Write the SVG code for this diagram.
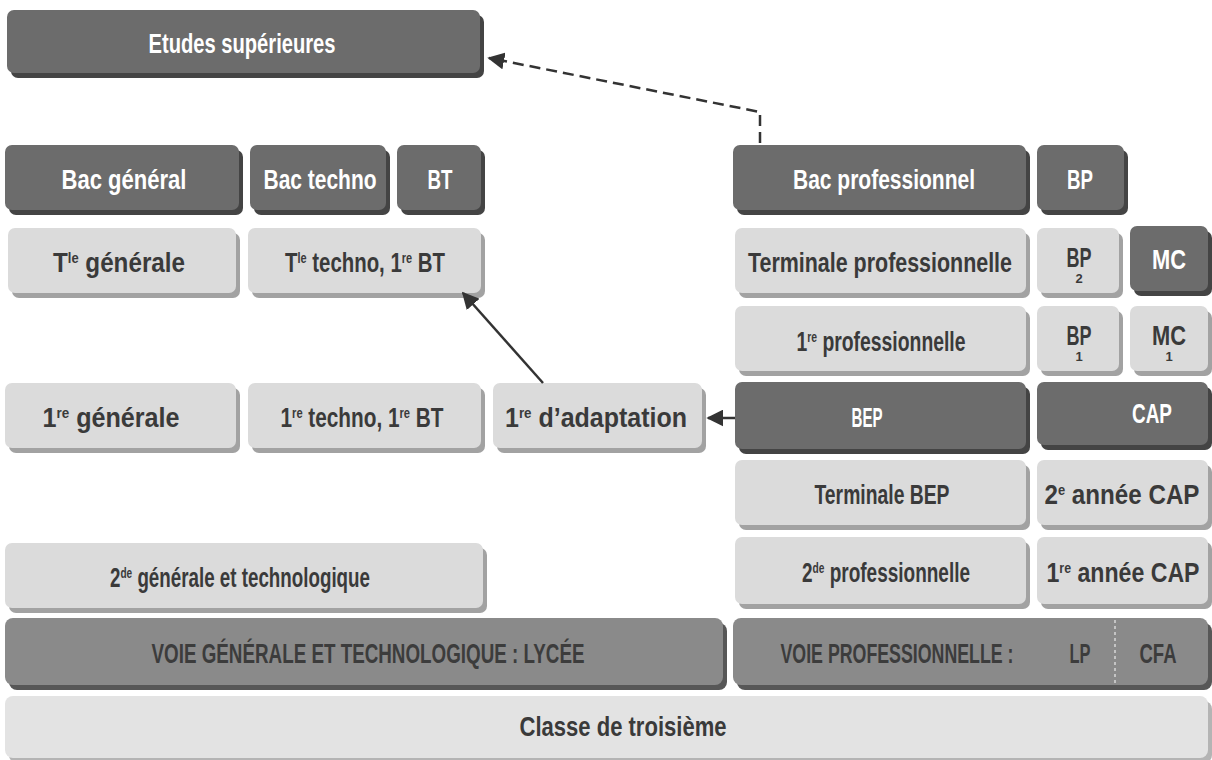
<svg xmlns="http://www.w3.org/2000/svg" width="1212" height="760" viewBox="0 0 1212 760">
<defs>
<style>
.fd{fill:#6c6c6c}.sd{fill:#444}
.fl{fill:#dbdbdb}.sl{fill:#a2a2a2}
.fm{fill:#8a8a8a}.sm{fill:#575757}
.fc{fill:#e3e3e3}.sc{fill:#b4b4b4}
text{font-family:"Liberation Sans",Arial,sans-serif;font-weight:bold;font-size:28px;text-anchor:middle}
.tw{fill:#ffffff}.tk{fill:#3a3a3a}.tm{fill:#3c3c3c;font-size:27px}
.sub{font-size:13px}
.sup{font-size:15px}
.conn{fill:none;stroke:#333;stroke-width:2.5}
</style>
<marker id="ah" viewBox="0 0 10 10" refX="9" refY="5" markerWidth="17" markerHeight="17" markerUnits="userSpaceOnUse" orient="auto">
<path d="M0,0 L10,5 L0,10 z" fill="#333"/>
</marker>
</defs>
<rect width="1212" height="760" fill="#fff"/>

<g id="etudes"><rect class="sd" x="11" y="15" width="473" height="63" rx="7"/><rect class="fd" x="7" y="10" width="473" height="63" rx="7"/><text class="tw" x="242" y="53" textLength="187" lengthAdjust="spacingAndGlyphs">Etudes supérieures</text></g>

<g id="bac-general"><rect class="sd" x="9" y="150" width="234" height="65" rx="7"/><rect class="fd" x="5" y="145" width="234" height="65" rx="7"/><text class="tw" x="124" y="189" textLength="125" lengthAdjust="spacingAndGlyphs">Bac général</text></g>
<g id="bac-techno"><rect class="sd" x="254" y="150" width="136" height="65" rx="7"/><rect class="fd" x="250" y="145" width="136" height="65" rx="7"/><text class="tw" x="320" y="189" textLength="113" lengthAdjust="spacingAndGlyphs">Bac techno</text></g>
<g id="bt"><rect class="sd" x="401" y="150" width="84" height="65" rx="7"/><rect class="fd" x="397" y="145" width="84" height="65" rx="7"/><text class="tw" x="440" y="189" textLength="25" lengthAdjust="spacingAndGlyphs">BT</text></g>
<g id="bac-pro"><rect class="sd" x="737" y="150" width="293" height="65" rx="7"/><rect class="fd" x="733" y="145" width="293" height="65" rx="7"/><text class="tw" x="884" y="189" textLength="182" lengthAdjust="spacingAndGlyphs">Bac professionnel</text></g>
<g id="bp"><rect class="sd" x="1041" y="150" width="87" height="65" rx="7"/><rect class="fd" x="1037" y="145" width="87" height="65" rx="7"/><text class="tw" x="1080" y="189" textLength="26" lengthAdjust="spacingAndGlyphs">BP</text></g>

<g id="tle-generale"><rect class="sl" x="12" y="233" width="228" height="65" rx="7"/><rect class="fl" x="8" y="228" width="228" height="65" rx="7"/><text class="tk" x="119" y="272" textLength="132" lengthAdjust="spacingAndGlyphs">T<tspan class="sup" baseline-shift="9">le</tspan> générale</text></g>
<g id="tle-techno"><rect class="sl" x="252" y="233" width="233" height="65" rx="7"/><rect class="fl" x="248" y="228" width="233" height="65" rx="7"/><text class="tk" x="365" y="272" textLength="160" lengthAdjust="spacingAndGlyphs">T<tspan class="sup" baseline-shift="9">le</tspan> techno, 1<tspan class="sup" baseline-shift="9">re</tspan> BT</text></g>
<g id="term-pro"><rect class="sl" x="739" y="233" width="291" height="65" rx="7"/><rect class="fl" x="735" y="228" width="291" height="65" rx="7"/><text class="tk" x="880" y="272" textLength="264" lengthAdjust="spacingAndGlyphs">Terminale professionnelle</text></g>
<g id="bp2"><rect class="sl" x="1041" y="233" width="82" height="65" rx="7"/><rect class="fl" x="1037" y="228" width="82" height="65" rx="7"/><text class="tk" x="1079" y="267" textLength="25" lengthAdjust="spacingAndGlyphs">BP</text><text class="tk sub" x="1079" y="283">2</text></g>
<g id="mc"><rect class="sd" x="1134" y="231" width="78" height="65" rx="7"/><rect class="fd" x="1130" y="226" width="78" height="65" rx="7"/><text class="tw" x="1169" y="269" textLength="34" lengthAdjust="spacingAndGlyphs">MC</text></g>

<g id="1re-pro"><rect class="sl" x="739" y="311" width="291" height="65" rx="7"/><rect class="fl" x="735" y="306" width="291" height="65" rx="7"/><text class="tk" x="881" y="351" textLength="169" lengthAdjust="spacingAndGlyphs">1<tspan class="sup" baseline-shift="9">re</tspan> professionnelle</text></g>
<g id="bp1"><rect class="sl" x="1041" y="311" width="82" height="65" rx="7"/><rect class="fl" x="1037" y="306" width="82" height="65" rx="7"/><text class="tk" x="1079" y="345" textLength="25" lengthAdjust="spacingAndGlyphs">BP</text><text class="tk sub" x="1079" y="361">1</text></g>
<g id="mc1"><rect class="sl" x="1134" y="311" width="78" height="65" rx="7"/><rect class="fl" x="1130" y="306" width="78" height="65" rx="7"/><text class="tk" x="1169" y="345" textLength="34" lengthAdjust="spacingAndGlyphs">MC</text><text class="tk sub" x="1169" y="361">1</text></g>

<g id="1re-generale"><rect class="sl" x="9" y="388" width="231" height="65" rx="7"/><rect class="fl" x="5" y="383" width="231" height="65" rx="7"/><text class="tk" x="111" y="427" textLength="137" lengthAdjust="spacingAndGlyphs">1<tspan class="sup" baseline-shift="9">re</tspan> générale</text></g>
<g id="1re-techno"><rect class="sl" x="252" y="388" width="233" height="65" rx="7"/><rect class="fl" x="248" y="383" width="233" height="65" rx="7"/><text class="tk" x="362" y="427" textLength="163" lengthAdjust="spacingAndGlyphs">1<tspan class="sup" baseline-shift="9">re</tspan> techno, 1<tspan class="sup" baseline-shift="9">re</tspan> BT</text></g>
<g id="1re-adaptation"><rect class="sl" x="497" y="388" width="209" height="65" rx="7"/><rect class="fl" x="493" y="383" width="209" height="65" rx="7"/><text class="tk" x="596" y="427" textLength="182" lengthAdjust="spacingAndGlyphs">1<tspan class="sup" baseline-shift="9">re</tspan> d’adaptation</text></g>
<g id="bep"><rect class="sd" x="739" y="387" width="291" height="67" rx="7"/><rect class="fd" x="735" y="382" width="291" height="67" rx="7"/><text class="tw" x="867" y="427" textLength="31" lengthAdjust="spacingAndGlyphs">BEP</text></g>
<g id="cap"><rect class="sd" x="1041" y="387" width="171" height="63" rx="7"/><rect class="fd" x="1037" y="382" width="171" height="63" rx="7"/><text class="tw" x="1152" y="423" textLength="40" lengthAdjust="spacingAndGlyphs">CAP</text></g>

<g id="term-bep"><rect class="sl" x="739" y="465" width="291" height="65" rx="7"/><rect class="fl" x="735" y="460" width="291" height="65" rx="7"/><text class="tk" x="882" y="504" textLength="135" lengthAdjust="spacingAndGlyphs">Terminale BEP</text></g>
<g id="2e-cap"><rect class="sl" x="1041" y="465" width="171" height="65" rx="7"/><rect class="fl" x="1037" y="460" width="171" height="65" rx="7"/><text class="tk" x="1122" y="504" textLength="155" lengthAdjust="spacingAndGlyphs">2<tspan class="sup" baseline-shift="9">e</tspan> année CAP</text></g>

<g id="2de-generale"><rect class="sl" x="9" y="548" width="478" height="65" rx="7"/><rect class="fl" x="5" y="543" width="478" height="65" rx="7"/><text class="tk" x="240" y="587" textLength="260" lengthAdjust="spacingAndGlyphs">2<tspan class="sup" baseline-shift="9">de</tspan> générale et technologique</text></g>
<g id="2de-pro"><rect class="sl" x="739" y="542" width="291" height="67" rx="7"/><rect class="fl" x="735" y="537" width="291" height="67" rx="7"/><text class="tk" x="886" y="582" textLength="168" lengthAdjust="spacingAndGlyphs">2<tspan class="sup" baseline-shift="9">de</tspan> professionnelle</text></g>
<g id="1re-cap"><rect class="sl" x="1041" y="542" width="171" height="67" rx="7"/><rect class="fl" x="1037" y="537" width="171" height="67" rx="7"/><text class="tk" x="1123" y="582" textLength="153" lengthAdjust="spacingAndGlyphs">1<tspan class="sup" baseline-shift="9">re</tspan> année CAP</text></g>

<g id="voie-generale"><rect class="sm" x="9" y="623" width="718" height="67" rx="8"/><rect class="fm" x="5" y="618" width="718" height="67" rx="8"/><text class="tm" x="368" y="663" textLength="433" lengthAdjust="spacingAndGlyphs">VOIE GÉNÉRALE ET TECHNOLOGIQUE : LYCÉE</text></g>
<g id="voie-pro"><rect class="sm" x="737" y="623" width="475" height="67" rx="8"/><rect class="fm" x="733" y="618" width="475" height="67" rx="8"/><line x1="1115" y1="620" x2="1115" y2="685" stroke="#d8d8d8" stroke-width="1.5" stroke-dasharray="3,3"/><text class="tm" x="897" y="663" textLength="233" lengthAdjust="spacingAndGlyphs">VOIE PROFESSIONNELLE :</text><text class="tm" x="1080" y="663" textLength="21" lengthAdjust="spacingAndGlyphs">LP</text><text class="tm" x="1158" y="663" textLength="37" lengthAdjust="spacingAndGlyphs">CFA</text></g>

<g id="classe-troisieme"><rect class="sc" x="9" y="701" width="1203" height="62" rx="8"/><rect class="fc" x="5" y="696" width="1203" height="62" rx="8"/><text class="tk" x="623" y="736" textLength="207" lengthAdjust="spacingAndGlyphs">Classe de troisième</text></g>

<g id="connectors">
<path class="conn" d="M760,143 L760,112 L489,58" stroke-dasharray="11,6" marker-end="url(#ah)"/>
<path class="conn" d="M543,383 L463,293" stroke-width="2" marker-end="url(#ah)"/>
<path class="conn" d="M735,418 L708,418" stroke-width="3" marker-end="url(#ah)"/>
</g>
</svg>
